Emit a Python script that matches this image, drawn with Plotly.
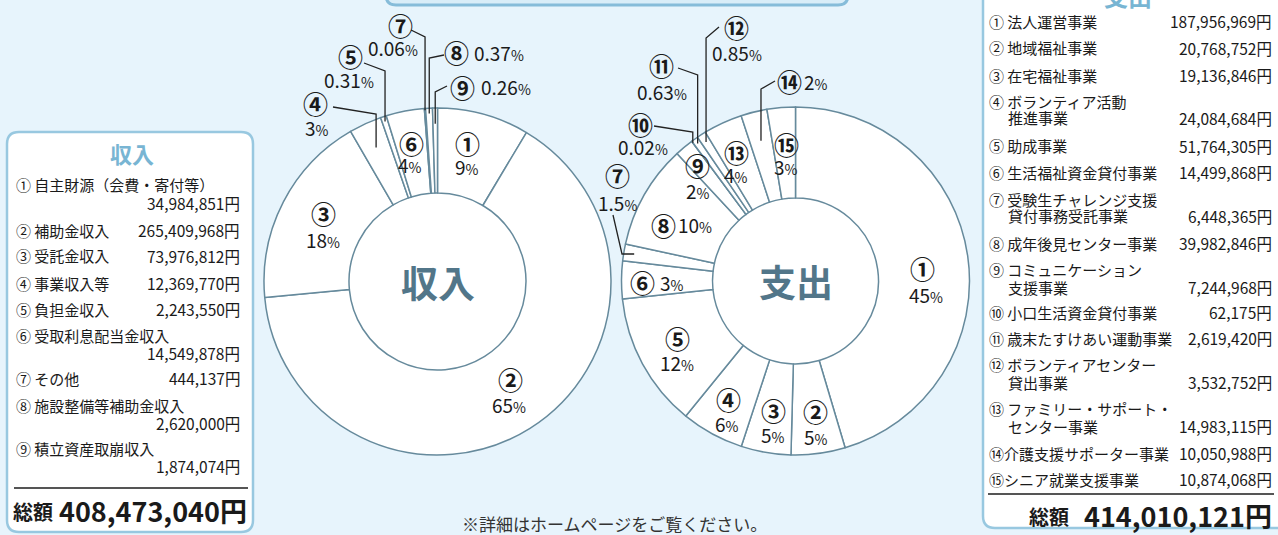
import math
import plotly.graph_objects as go

W, H = 1278, 535

# ---------------- data ----------------
circled = ["①", "②", "③", "④", "⑤", "⑥", "⑦", "⑧", "⑨", "⑩", "⑪", "⑫", "⑬", "⑭", "⑮"]

inc_names = ["自主財源（会費・寄付等）", "補助金収入", "受託金収入", "事業収入等", "負担金収入",
             "受取利息配当金収入", "その他", "施設整備等補助金収入", "積立資産取崩収入"]
inc_values = [34984851, 265409968, 73976812, 12369770, 2243550, 14549878, 444137, 2620000, 1874074]
inc_pct_text = ["9", "65", "18", "3", "0.31", "4", "0.06", "0.37", "0.26"]
inc_total = 408473040

exp_names = ["法人運営事業", "地域福祉事業", "在宅福祉事業", "ボランティア活動\n推進事業", "助成事業",
             "生活福祉資金貸付事業", "受験生チャレンジ支援\n貸付事務受託事業", "成年後見センター事業",
             "コミュニケーション\n支援事業", "小口生活資金貸付事業", "歳末たすけあい運動事業",
             "ボランティアセンター\n貸出事業", "ファミリー・サポート・\nセンター事業",
             "介護支援サポーター事業", "シニア就業支援事業"]
exp_values = [187956969, 20768752, 19136846, 24084684, 51764305, 14499868, 6448365, 39982846,
              7244968, 62175, 2619420, 3532752, 14983115, 10050988, 10874068]
exp_pct_text = ["45", "5", "5", "6", "12", "3", "1.5", "10", "2", "0.02", "0.63", "0.85", "4", "2", "3"]
exp_total = 414010121

# ---------------- styling / layout ----------------
FONT = "Noto Sans CJK JP"
BG = "#e7f4fc"
SLICE_LINE = "#668a9c"
CENTER_TXT = "#527689"
BOX_LINE = "#98c8e0"
TITLE_BLUE = "#78b5d3"
TXT = "#1a1a1a"

# donut geometry in pixels (centre x, centre y, outer r, inner r)
INC_G = (437.5, 281.5, 173.5, 88.5)
EXP_G = (795.5, 281.0, 174.0, 83.0)


def px(x):
    return x / W


def py(y):
    return 1 - y / H


fig = go.Figure()


def add_donut(values, g):
    cx, cy, r, ri = g
    fig.add_trace(go.Pie(
        values=values, sort=False, direction="clockwise", rotation=0,
        hole=ri / r, textinfo="none", hoverinfo="skip", showlegend=False,
        marker=dict(colors=["white"] * len(values), line=dict(color=SLICE_LINE, width=1.5)),
        domain=dict(x=[px(cx - r), px(cx + r)], y=[py(cy + r), py(cy - r)]),
    ))


add_donut(inc_values, INC_G)
add_donut(exp_values, EXP_G)

shapes = []
annotations = []


def ann(x, y, text, size, color=TXT, xanchor="center", yanchor="middle", bold=False):
    if bold:
        text = f"<b>{text}</b>"
    annotations.append(dict(x=px(x), y=py(y), xref="paper", yref="paper", text=text,
                            showarrow=False, xanchor=xanchor, yanchor=yanchor,
                            font=dict(family=FONT, size=size, color=color)))


NUMSIZE = 25
PCTSIZE = 19


def pct(s, psize=14):
    return f"{s}<span style='font-size:{psize}px'>%</span>"


# hole fills (white) under donuts
for g in (INC_G, EXP_G):
    cx, cy, r, ri = g
    shapes.append(dict(type="circle", xref="paper", yref="paper", layer="below",
                       x0=px(cx - ri), x1=px(cx + ri), y0=py(cy + ri), y1=py(cy - ri),
                       fillcolor="white", line=dict(width=0)))


def slice_point(values, idx, g, frac):
    cx, cy, r, ri = g
    tot = sum(values)
    before = sum(values[:idx])
    mid = (before + values[idx] / 2) / tot * 2 * math.pi
    rr = r * frac
    return cx + rr * math.sin(mid), cy - rr * math.cos(mid)


def leader(values, idx, g, frac, start, mode, elbow):
    ax, ay = slice_point(values, idx, g, frac)
    if mode == "v":
        pts = [start, (ax, elbow), (ax, ay)]
    else:
        pts = [start, (elbow, ay), (ax, ay)]
    path = "M " + " L ".join(f"{px(x):.5f},{py(y):.5f}" for x, y in pts)
    shapes.append(dict(type="path", xref="paper", yref="paper", layer="above", path=path,
                       line=dict(color="#222222", width=1.3)))


def slice_labels(pcts, num_pos, pct_pos):
    for i in range(len(pcts)):
        nx, ny = num_pos[i]
        ann(nx, ny, circled[i], NUMSIZE, bold=True)
        x, y, a = pct_pos[i]
        ann(x, y, pct(pcts[i]), PCTSIZE, xanchor=a)


# ---------- income donut labels ----------
inc_num_pos = [(467, 143), (510, 379), (323, 213), (315, 103), (350, 56), (411, 143),
               (400, 25), (456, 52), (462, 87)]
inc_pct_pos = [(467, 167, "center"), (509, 404, "center"), (323, 239, "center"),
               (317, 128, "center"), (349, 79, "center"), (410, 164, "center"),
               (393, 48, "center"), (472, 52, "left"), (479, 87, "left")]
slice_labels(inc_pct_text, inc_num_pos, inc_pct_pos)

inc_leaders = [(3, 0.85, (333, 107), "v", 114), (4, 0.97, (364, 63), "v", 71),
               (6, 0.99, (411, 30), "v", 37), (7, 0.97, (444, 55), "v", 58),
               (8, 0.91, (447, 86), "v", 92)]
for idx, f, st, m, e in inc_leaders:
    leader(inc_values, idx, INC_G, f, st, m, e)

# ---------- expenditure donut labels ----------
exp_num_pos = [(922, 268), (815, 411), (773, 410), (728, 399), (677, 338), (642, 282),
               (617, 175), (663, 225), (697, 165), (640, 124), (661, 65), (736, 27),
               (736, 152), (789, 81), (786, 144)]
exp_pct_pos = [(926, 294, "center"), (816, 436, "center"), (773, 434, "center"),
               (727, 423, "center"), (677, 362, "center"), (658, 282, "left"),
               (617, 202, "center"), (676, 225, "left"), (698, 190, "center"),
               (643, 147, "center"), (662, 91, "center"), (737, 52, "center"),
               (736, 175, "center"), (802, 81, "left"), (786, 167, "center")]
slice_labels(exp_pct_text, exp_num_pos, exp_pct_pos)

exp_leaders = [(9, 0.99, (654, 126), "v", 132), (10, 0.97, (678, 68), "v", 75),
               (11, 0.95, (719, 27), "v", 38), (13, 0.83, (775, 81), "v", 89),
               (6, 0.94, (613, 215), "h", 622)]
for idx, f, st, m, e in exp_leaders:
    leader(exp_values, idx, EXP_G, f, st, m, e)

# centre titles
ann(INC_G[0], INC_G[1], "収入", 37, CENTER_TXT, bold=True)
ann(EXP_G[0], EXP_G[1], "支出", 37, CENTER_TXT, bold=True)


# ---------- rounded boxes ----------
def rrect(x0, y0, x1, y1, r, fill, line, lw):
    p = (f"M {px(x0 + r)},{py(y0)} L {px(x1 - r)},{py(y0)} Q {px(x1)},{py(y0)} {px(x1)},{py(y0 + r)} "
         f"L {px(x1)},{py(y1 - r)} Q {px(x1)},{py(y1)} {px(x1 - r)},{py(y1)} "
         f"L {px(x0 + r)},{py(y1)} Q {px(x0)},{py(y1)} {px(x0)},{py(y1 - r)} "
         f"L {px(x0)},{py(y0 + r)} Q {px(x0)},{py(y0)} {px(x0 + r)},{py(y0)} Z")
    shapes.append(dict(type="path", xref="paper", yref="paper", layer="below", path=p,
                       fillcolor=fill, line=dict(color=line, width=lw)))


rrect(386, -40, 848, 5, 10, "#d9edf8", "#86bcd9", 3)       # top banner (cut off)
rrect(7, 132, 253, 532, 12, "white", BOX_LINE, 2.5)        # income list box
rrect(983, -40, 1300, 528, 12, "white", BOX_LINE, 2.5)     # expenditure list box

# ---------- income list ----------
ann(132, 153, "収入", 22, TITLE_BLUE, bold=True)
inc_rows = [(185, 203), (230, 230), (256, 256), (283, 283), (309, 309), (335, 353),
            (378, 378), (405, 423), (448, 466)]
for i, (yl, ya) in enumerate(inc_rows):
    ann(14, yl, f"{circled[i]} {inc_names[i]}", 15, xanchor="left")
    ann(242, ya, f"{inc_values[i]:,}円", 15.5, xanchor="right")
shapes.append(dict(type="line", xref="paper", yref="paper", x0=px(14), x1=px(248),
                   y0=py(488), y1=py(488), line=dict(color="#555555", width=2)))
ann(11, 511, "総額", 20, xanchor="left", bold=True)
ann(249, 510, f"{inc_total:,}円", 27, xanchor="right", bold=True)

# ---------- expenditure list ----------
ann(1128, -4, "支出", 24, TITLE_BLUE, bold=True)
exp_rows = [(21, None), (48, None), (75, None), (101, 118), (146, None), (172, None),
            (199, 216), (243, None), (269, 287), (312, None), (338, None), (364, 382),
            (408, 426), (453, None), (479, None)]
for i, (y1, y2) in enumerate(exp_rows):
    parts = exp_names[i].split("\n")
    sep = "" if i >= 13 else " "
    ann(987, y1, f"{circled[i]}{sep}{parts[0]}", 15, xanchor="left")
    if len(parts) > 1:
        ann(1006, y2, parts[1], 15, xanchor="left")
    ann(1274, y2 if y2 else y1, f"{exp_values[i]:,}円", 15.5, xanchor="right")
shapes.append(dict(type="line", xref="paper", yref="paper", x0=px(988), x1=px(1274),
                   y0=py(494), y1=py(494), line=dict(color="#555555", width=2)))
ann(1027, 516, "総額", 20, xanchor="left", bold=True)
ann(1274, 515, f"{exp_total:,}円", 27, xanchor="right", bold=True)

# footnote
ann(614, 523, "※詳細はホームページをご覧ください。", 17, "#333333")

fig.update_layout(
    width=W, height=H, margin=dict(l=0, r=0, t=0, b=0),
    paper_bgcolor=BG, plot_bgcolor=BG,
    shapes=shapes, annotations=annotations,
    font=dict(family=FONT, color=TXT),
)

fig.write_html("out.html")
